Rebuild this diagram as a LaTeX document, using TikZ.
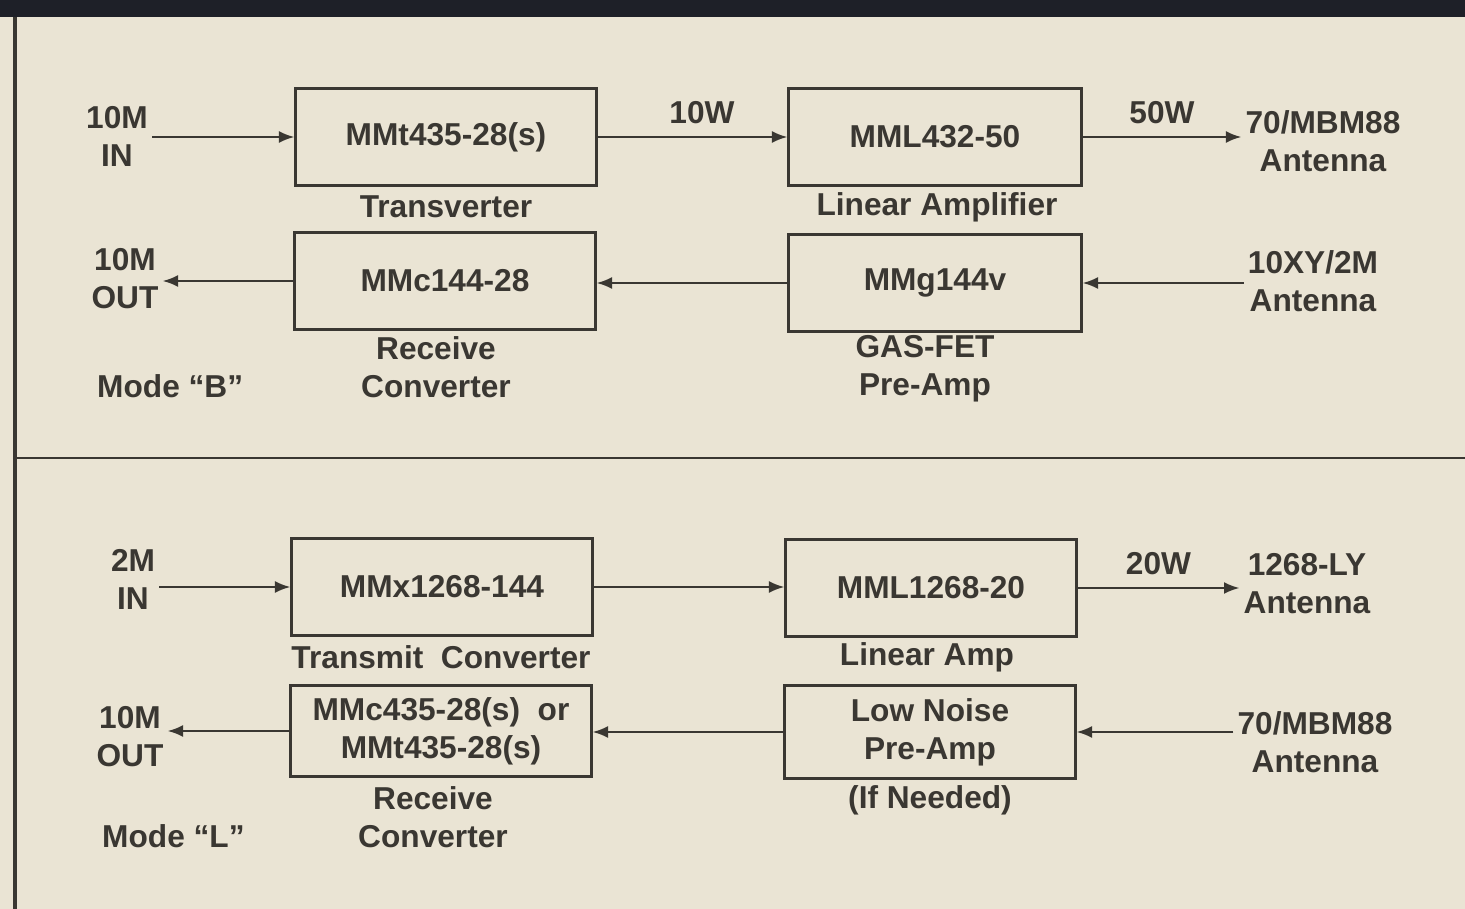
\documentclass[tikz,border=0pt]{standalone}
\usepackage{fontspec}
\setmainfont{Liberation Sans}
\usepackage{xcolor}
\usepackage{tikz}
\usetikzlibrary{arrows.meta,positioning}
\definecolor{paper}{HTML}{EAE4D4}
\definecolor{ink}{HTML}{3A3732}
\definecolor{band}{HTML}{1E2028}

\begin{document}
\begin{tikzpicture}[
  x=0.01cm, y=-0.01cm,
  font=\fontsize{9}{10.8}\selectfont\bfseries,
  blk/.style={draw=ink, line width=0.85pt, minimum width=#1, minimum height=0.96cm, align=center, text=ink},
  blk/.default=3cm,
  sig/.style={-{Latex[length=4.4pt,width=3.4pt]}, line width=0.6pt, draw=ink},
  lab/.style={align=center, text=ink, inner sep=1pt},
  pwr/.style={lab, above=2.5pt, midway}
]
\fill[paper] (0,0) rectangle (1465,909);
\useasboundingbox (0,0) rectangle (1465,909);
% frame
\fill[band] (0,0) rectangle (1465,17);
\draw[ink, line width=0.9pt] (15,17) -- (15,909);
\draw[ink, line width=0.8pt] (15,458) -- (1465,458);

% Mode B, transmit
\node[lab] (inB) at (117,136) {10M\\IN};
\node[blk] (txB) at (446,137) {MMt435-28(s)};
\node[lab] (txBl) at (446,207) {Transverter};
\node[blk=2.92cm] (ampB) at (935,137) {MML432-50};
\node[lab] (ampBl) at (937,207) {Linear Amplifier};
\node[lab] (antB) at (1323,141) {70/MBM88\\Antenna};
\draw[sig] (inB.east |- txB.west) -- (txB.west);
\draw[sig] (txB.east) -- node[pwr, pos=0.55] (wB1) {10W} (ampB.west);
\draw[sig] (ampB.east) -- node[pwr] (wB2) {50W} (antB.west |- ampB.east);
% Mode B, receive
\node[lab] (outB) at (125,279) {10M\\OUT};
\node[blk] (rxB) at (445,281) {MMc144-28};
\node[lab] (rxBl) at (436,367) {Receive\\Converter};
\node[blk=2.92cm] (preB) at (935,283) {MMg144v};
\node[lab] (preBl) at (925,369) {GAS-FET\\Pre-Amp};
\node[lab] (antB2) at (1313,281) {10XY/2M\\Antenna};
\node[lab, anchor=west] (modeB) at (93,386) {Mode “B”};
\draw[sig] (antB2.west |- preB.east) -- (preB.east);
\draw[sig] (preB.west) -- (rxB.east |- preB.west);
\draw[sig] (rxB.west) -- (outB.east |- rxB.west);

% Mode L, transmit
\node[lab] (inL) at (133,579) {2M\\IN};
\node[blk] (txL) at (442,587) {MMx1268-144};
\node[lab] (txLl) at (441,657) {Transmit~~Converter};
\node[blk=2.9cm] (ampL) at (931,588) {MML1268-20};
\node[lab] (ampLl) at (927,657) {Linear Amp};
\node[lab] (antL) at (1307,584) {1268-LY\\Antenna};
\draw[sig] (inL.east |- txL.west) -- (txL.west);
\draw[sig] (txL.east) -- (ampL.west |- txL.east);
\draw[sig] (ampL.east) -- node[pwr] (wL) {20W} (antL.west |- ampL.east);
% Mode L, receive
\node[lab] (outL) at (130,737) {10M\\OUT};
\node[blk, minimum height=0.9cm] (rxL) at (441,731) {MMc435-28(s)~~or\\MMt435-28(s)};
\node[lab] (rxLl) at (433,817) {Receive\\Converter};
\node[blk=2.9cm, minimum height=0.92cm] (preL) at (930,732) {Low Noise\\Pre-Amp};
\node[lab] (preLl) at (930,800) {(If Needed)};
\node[lab] (antL2) at (1315,742) {70/MBM88\\Antenna};
\node[lab, anchor=west] (modeL) at (98,836) {Mode “L”};
\draw[sig] (antL2.west |- preL.east) -- (preL.east);
\draw[sig] (preL.west) -- (rxL.east |- preL.west);
\draw[sig] (rxL.west) -- (outL.east |- rxL.west);
\end{tikzpicture}
\end{document}
